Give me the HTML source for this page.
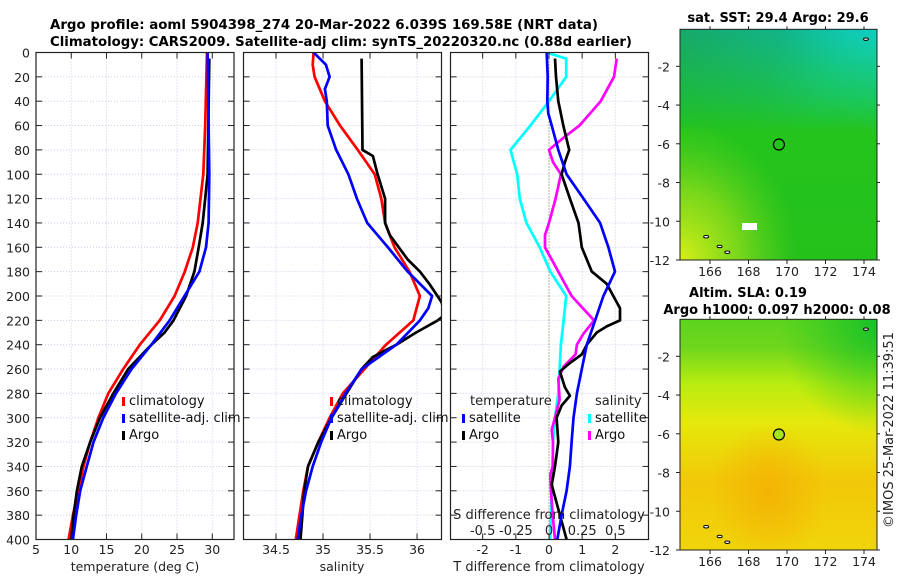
<!DOCTYPE html>
<html><head><meta charset="utf-8"><style>
html,body{margin:0;padding:0;background:#fff;}
svg{display:block;font-family:"DejaVu Sans","Liberation Sans",sans-serif;}
</style></head><body>
<svg id="fig" width="900" height="580" viewBox="0 0 900 580" xmlns="http://www.w3.org/2000/svg">
<defs>
<linearGradient id="sst1" x1="0" y1="0" x2="1" y2="0.4"><stop offset="0" stop-color="#17a86a"/><stop offset="0.45" stop-color="#12b48a"/><stop offset="0.75" stop-color="#0fcab8"/><stop offset="1" stop-color="#10d2cc"/></linearGradient>
<linearGradient id="sst2" x1="0" y1="0" x2="0" y2="1"><stop offset="0" stop-color="#22c21a" stop-opacity="0"/><stop offset="0.3" stop-color="#22c21a" stop-opacity="0.6"/><stop offset="0.45" stop-color="#25c41c" stop-opacity="1"/><stop offset="1" stop-color="#24c11b"/></linearGradient>
<radialGradient id="sst3" cx="0" cy="1" r="0.6"><stop offset="0" stop-color="#d8f016"/><stop offset="0.5" stop-color="#9ee01a" stop-opacity="0.7"/><stop offset="1" stop-color="#6cd41c" stop-opacity="0"/></radialGradient>
<linearGradient id="sla1" x1="0" y1="0" x2="0" y2="1"><stop offset="0" stop-color="#5cd41e"/><stop offset="0.12" stop-color="#6ed61c"/><stop offset="0.28" stop-color="#b8ec10"/><stop offset="0.45" stop-color="#e6e80c"/><stop offset="0.7" stop-color="#f2c808"/><stop offset="1" stop-color="#f0d40a"/></linearGradient>
<radialGradient id="sla2" cx="1" cy="0" r="0.5"><stop offset="0" stop-color="#14c02a"/><stop offset="1" stop-color="#30c820" stop-opacity="0"/></radialGradient>
<radialGradient id="sla3" cx="0.45" cy="0.75" r="0.3"><stop offset="0" stop-color="#f3b404"/><stop offset="1" stop-color="#f3b404" stop-opacity="0"/></radialGradient>
<clipPath id="cp1"><rect x="36" y="52.5" width="198" height="487"/></clipPath>
<clipPath id="cp2"><rect x="243.5" y="52.5" width="198" height="487"/></clipPath>
<clipPath id="cp3"><rect x="450.5" y="52.5" width="198" height="487"/></clipPath>
</defs>
<g id="layer"></g>
</svg>
<script>
// ---- data ----
const tDepth = [0,60,100,140,160,180,200,220,240,260,280,300,320,340,360,380,400];
const tClim  = [29.25,29.0,28.73,27.93,27.23,26.1,24.65,22.54,19.72,17.37,15.26,13.85,12.68,11.74,11.03,10.23,9.62];
const tSatDepth = [0,100,140,160,180,200,220,240,260,280,300,320,340,360,380,400];
const tSat   = [29.34,29.58,29.48,29.11,28.17,26.06,23.94,21.36,18.54,16.34,14.55,13.15,12.2,11.27,10.7,10.23];
const tArgoDepth = [5,100,120,140,160,180,200,220,230,240,260,280,300,320,340,360,380,400];
const tArgo  = [29.58,29.34,29.0,28.64,28.07,27.46,26.29,24.5,23.24,21.36,18.07,15.96,14.08,12.68,11.5,10.8,10.33,10.0];

const sClimDepth = [0,10,20,40,60,80,90,100,120,140,160,180,200,220,240,260,280,300,320,340,360,380,400];
const sClim = [34.90,34.89,34.91,35.02,35.18,35.37,35.46,35.55,35.62,35.66,35.76,35.92,36.03,35.96,35.67,35.44,35.21,35.07,34.95,34.84,34.79,34.75,34.71];
const sSatDepth = [0,10,20,30,40,60,80,100,120,140,160,180,200,210,220,240,260,280,300,320,340,360,380,400];
const sSat = [34.90,35.03,35.07,35.02,35.04,35.05,35.14,35.27,35.36,35.47,35.69,35.90,36.16,36.12,36.03,35.78,35.41,35.24,35.09,34.98,34.89,34.82,34.77,34.73];
const sArgoDepth = [5,80,85,100,120,140,150,170,180,190,205,215,220,230,240,250,260,280,300,320,340,360,380,400];
const sArgo = [35.41,35.42,35.53,35.58,35.66,35.66,35.71,35.90,36.03,36.13,36.26,36.30,36.22,35.99,35.78,35.53,35.41,35.25,35.09,34.95,34.84,34.80,34.78,34.76];

const dTSatDepth = [0,20,40,50,60,80,100,120,140,160,180,200,220,240,260,280,300,320,340,360,380,400];
const dTSat = [-0.07,-0.04,-0.05,-0.02,0.08,0.28,0.53,1.04,1.54,1.79,1.99,1.64,1.39,1.14,0.99,0.84,0.74,0.68,0.63,0.53,0.38,0.25];
const dTArgoDepth = [5,20,40,60,80,90,100,120,140,160,180,190,200,210,220,225,230,240,248,255,262,275,282,290,300,320,340,355,365,380,400];
const dTArgo = [0.18,0.21,0.28,0.43,0.61,0.48,0.38,0.63,0.89,0.99,1.29,1.74,1.94,2.14,2.14,1.74,1.44,1.14,0.99,0.63,0.33,0.48,0.63,0.38,0.23,0.28,0.18,0.08,0.18,0.33,0.53];
const dSSatDepth = [0,5,20,40,60,80,100,120,140,160,180,200,220,240,260,280,300,320,340,360,380,400];
const dSSat = [-0.02,0.13,0.13,0.0,-0.14,-0.29,-0.24,-0.22,-0.17,-0.07,0.01,0.13,0.11,0.09,0.08,0.07,0.045,0.03,0.028,0.02,0.015,0.008];
const dSArgoDepth = [5,20,40,60,70,80,90,100,120,140,150,160,180,200,220,231,240,248,258,268,285,300,310,320,340,347,360,380,400];
const dSArgo = [0.51,0.49,0.39,0.23,0.11,0.0,0.03,0.09,0.05,0.0,-0.03,-0.03,0.07,0.17,0.34,0.26,0.21,0.2,0.11,0.07,0.08,0.045,0.02,0.03,0.028,0.01,0.015,0.028,0.045];

const depthTicks = [0,20,40,60,80,100,120,140,160,180,200,220,240,260,280,300,320,340,360,380,400];
const tTicks = [5,10,15,20,25,30];
const sTicks = [34.5,35,35.5,36];
const dTTicks = [-2,-1,0,1,2];
const dSTicks = [-0.5,-0.25,0,0.25,0.5];
const dSTickLabels = ["-0.5","-0.25","0","0.25","0.5"];
const latTicks = [-2,-4,-6,-8,-10,-12];
const lonTicks = [166,168,170,172,174];
const argoLon = 169.58, argoLat = -6.039;

// ---- helpers ----
const NS = "http://www.w3.org/2000/svg";
const layer = document.getElementById('layer');
function mk(tag, attrs, parent){ const e=document.createElementNS(NS,tag); for(const k in attrs) e.setAttribute(k,attrs[k]); (parent||layer).appendChild(e); return e; }
function lin(d0,d1,r0,r1){ return v => r0+(v-d0)*(r1-r0)/(d1-d0); }
const Y = lin(0,400,52.5,539.5);

const panels = [
 {name:'temperature-panel', x0:36, x1:234, X:lin(5,33.08,36,234), clip:'cp1'},
 {name:'salinity-panel', x0:243.5, x1:441.5, X:lin(34.154,36.26,243.5,441.5), clip:'cp2'},
 {name:'difference-panel', x0:450.5, x1:648.5, X:lin(-2.97,3.0,450.5,648.5), clip:'cp3'}
];
const XS = lin(-0.7425,0.75,450.5,648.5); // salinity diff axis (S = T/4)

function frame(p, xt, xf){
  const g = mk('g',{});
  
  
  depthTicks.forEach(d=>{ if(d>0&&d<400){ const l=mk('line',{x1:p.x0,x2:p.x1,y1:Y(d),y2:Y(d),stroke:'#c9cdea','stroke-width':1,'stroke-dasharray':'1,2'},g);   }});
  xt.forEach(v=>{ const x=xf(v); if(x>p.x0+1&&x<p.x1-1){ const l=mk('line',{x1:x,x2:x,y1:52.5,y2:539.5,stroke:'#c9cdea','stroke-width':1,'stroke-dasharray':'1,2'},g);   }});
  return g;
}
function ticksAndBox(p, xt, xf){
  const g = mk('g',{});
  
  
  depthTicks.forEach(d=>{ mk('line',{x1:p.x0,x2:p.x0+6,y1:Y(d),y2:Y(d),stroke:'#222','stroke-width':1},g); mk('line',{x1:p.x1-6,x2:p.x1,y1:Y(d),y2:Y(d),stroke:'#222','stroke-width':1},g); });
  xt.forEach(v=>{ const x=xf(v); mk('line',{x1:x,x2:x,y1:539.5,y2:533.5,stroke:'#222'},g); mk('line',{x1:x,x2:x,y1:52.5,y2:58.5,stroke:'#222'},g); });
  mk('rect',{x:p.x0,y:52.5,width:p.x1-p.x0,height:487,fill:'none',stroke:'#222','stroke-width':1.2},g);
}
function series(p, depths, vals, xf, color, name, w){
  let d='';
  vals.forEach((v,i)=>{ d += (i?'L':'M')+xf(v).toFixed(1)+','+Y(depths[i]).toFixed(1); });
  const e = mk('path',{d:d,fill:'none',stroke:color,'stroke-width':w||2.7,'stroke-linejoin':'round','clip-path':'url(#'+p.clip+')'});
  
  
}
function text(x,y,s,opts,name){
  const t = mk('text',Object.assign({x:x,y:y,'font-size':12.5,fill:'#222'},opts||{}));
  t.textContent = s;
  
  
  return t;
}
function legend(x,y,items,name){
  items.forEach((it,i)=>{
    const yy = y+i*17;
    const r = mk('rect',{x:x,y:yy-8,width:3,height:9,fill:it[0]});
    
    
    text(x+7,yy,it[1],{'font-size':13,fill:'#111'},name+'-label');
  });
}

// ---- panel 1: temperature ----
const p1=panels[0];
frame(p1,tTicks,p1.X);
series(p1,tDepth,tClim,p1.X,'#ff0000','temp-climatology-line');
series(p1,tArgoDepth,tArgo,p1.X,'#000000','temp-argo-line');
series(p1,tSatDepth,tSat,p1.X,'#0000ff','temp-satellite-line');
ticksAndBox(p1,tTicks,p1.X);
depthTicks.forEach(d=> text(30,Y(d)+5,String(d),{'text-anchor':'end'},'depth-tick-label'));
tTicks.forEach(v=> text(p1.X(v),554,String(v),{'text-anchor':'middle'},'temp-tick-label'));
text(135,571,'temperature (deg C)',{'text-anchor':'middle'},'temp-axis-title');
legend(122,405,[['#ff0000','climatology'],['#0000ff','satellite-adj. clim'],['#000000','Argo']],'temp-legend');

// ---- panel 2: salinity ----
const p2=panels[1];
frame(p2,sTicks,p2.X);
series(p2,sClimDepth,sClim,p2.X,'#ff0000','sal-climatology-line');
series(p2,sArgoDepth,sArgo,p2.X,'#000000','sal-argo-line');
series(p2,sSatDepth,sSat,p2.X,'#0000ff','sal-satellite-line');
ticksAndBox(p2,sTicks,p2.X);
sTicks.forEach(v=> text(p2.X(v),554,String(v),{'text-anchor':'middle'},'sal-tick-label'));
text(342,571,'salinity',{'text-anchor':'middle'},'sal-axis-title');
legend(330,405,[['#ff0000','climatology'],['#0000ff','satellite-adj. clim'],['#000000','Argo']],'sal-legend');

// ---- panel 3: differences ----
const p3=panels[2];
frame(p3,dTTicks,p3.X);
const zl = mk('line',{x1:p3.X(0),x2:p3.X(0),y1:52.5,y2:539.5,stroke:'#556b2f','stroke-width':1,'stroke-dasharray':'1,2'});


series(p3,dSSatDepth,dSSat,XS,'#00ffff','sdiff-satellite-line');
series(p3,dSArgoDepth,dSArgo,XS,'#ff00ff','sdiff-argo-line');
series(p3,dTArgoDepth,dTArgo,p3.X,'#000000','tdiff-argo-line');
series(p3,dTSatDepth,dTSat,p3.X,'#0000ff','tdiff-satellite-line');
ticksAndBox(p3,dTTicks,p3.X);
dTTicks.forEach(v=> text(p3.X(v),554,String(v),{'text-anchor':'middle'},'tdiff-tick-label'));
text(549,571,'T difference from climatology',{'text-anchor':'middle','font-size':13},'tdiff-axis-title');
text(549,519,'S difference from climatology',{'text-anchor':'middle','font-size':13},'sdiff-axis-title');
dSTicks.forEach((v,i)=> text(XS(v),535,dSTickLabels[i],{'text-anchor':'middle','font-size':13},'sdiff-tick-label'));
text(470,405,'temperature',{'font-size':13},'tdiff-legend-title');
legend(462,422,[['#0000ff','satellite'],['#000000','Argo']],'tdiff-legend');
text(595,405,'salinity',{'font-size':13},'sdiff-legend-title');
legend(588,422,[['#00ffff','satellite'],['#ff00ff','Argo']],'sdiff-legend');

// ---- titles ----
text(50,29,'Argo profile: aoml 5904398_274 20-Mar-2022 6.039S 169.58E (NRT data)',{'font-size':13,'font-weight':'bold',fill:'#000',textLength:548,lengthAdjust:'spacingAndGlyphs'},'main-title-line1');
text(50,46,'Climatology: CARS2009. Satellite-adj clim: synTS_20220320.nc (0.88d earlier)',{'font-size':13,'font-weight':'bold',fill:'#000',textLength:582,lengthAdjust:'spacingAndGlyphs'},'main-title-line2');

// ---- maps ----
function map(top, bottom, fills, name, circleFill){
  const LX = lin(166,174,710,864);
  const LY = lin(-2,-12,top+37,bottom);
  const g = mk('g',{});
  
  
  fills.forEach(f=> mk('rect',{x:680,y:top,width:197,height:bottom-top,fill:f},g));
  const c = mk('circle',{cx:LX(argoLon),cy:LY(argoLat),r:5.5,fill:circleFill,stroke:'#000','stroke-width':1.2},g);
  
  
  [[165.8,-10.8],[166.5,-11.3],[166.9,-11.6],[174.1,-0.6]].forEach(pt=> mk('ellipse',{cx:LX(pt[0]),cy:LY(pt[1]),rx:2.5,ry:1.2,fill:'#fff',stroke:'#000','stroke-width':1},g));
  mk('rect',{x:680,y:top,width:197,height:bottom-top,fill:'none',stroke:'#222','stroke-width':1},g);
  latTicks.forEach(v=>{ mk('line',{x1:680,x2:676,y1:LY(v),y2:LY(v),stroke:'#222'},g); mk('line',{x1:877,x2:880,y1:LY(v),y2:LY(v),stroke:'#222'},g); text(670,LY(v)+5,String(v),{'text-anchor':'end'},'lat-tick-label'); });
  lonTicks.forEach(v=>{ mk('line',{x1:LX(v),x2:LX(v),y1:bottom,y2:bottom+4,stroke:'#222'},g); mk('line',{x1:LX(v),x2:LX(v),y1:top,y2:top-3,stroke:'#222'},g); text(LX(v),bottom+16,String(v),{'text-anchor':'middle'},'lon-tick-label'); });
  return LY;
}
map(29.3,260,['url(#sst1)','url(#sst2)','url(#sst3)'],'sst-map','none');
const wh = mk('rect',{x:742,y:223,width:15,height:7,fill:'#fff'});


map(319.3,550,['url(#sla1)','url(#sla2)','url(#sla3)'],'sla-map','#a4e41a');
text(778,22,'sat. SST: 29.4 Argo: 29.6',{'text-anchor':'middle','font-size':13,'font-weight':'bold',fill:'#000'},'sst-map-title');
text(748,297,'Altim. SLA: 0.19',{'text-anchor':'middle','font-size':13,'font-weight':'bold',fill:'#000'},'sla-map-title');
text(777,314,'Argo h1000: 0.097 h2000: 0.08',{'text-anchor':'middle','font-size':13,'font-weight':'bold',fill:'#000'},'sla-map-subtitle');
text(0,0,'©IMOS 25-Mar-2022 11:39:51',{'text-anchor':'middle','font-size':13,transform:'translate(893,430) rotate(-90)'},'copyright-stamp');
</script>
</body></html>
